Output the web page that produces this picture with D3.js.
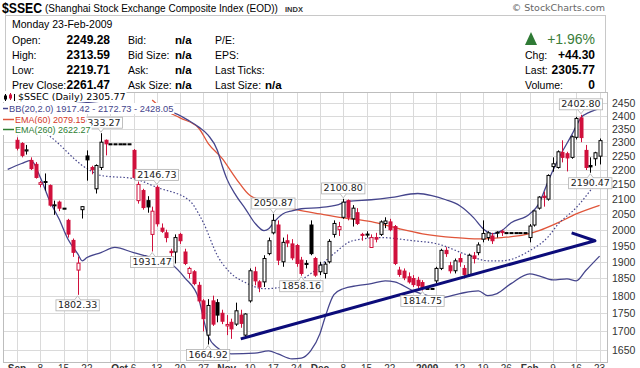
<!DOCTYPE html>
<html>
<head>
<meta charset="utf-8">
<script src="https://cdn.jsdelivr.net/npm/d3@7"></script>
<style>
  body { margin: 0; background: #fff; }
  svg { display: block; font-family: "Liberation Sans", Arial, sans-serif; }
</style>
</head>
<body>
<svg id="chart" width="640" height="368"></svg>
<script>
// ---- data ----
const fmtKey = d3.timeFormat('%Y-%m-%d');
// every weekday shown (holidays carry the previous close)
const dates = d3.timeDays(new Date(2008, 7, 28), new Date(2009, 1, 24))
    .filter(d => d.getDay() % 6 !== 0)
    .map(fmtKey);

const opens = [
  2345, 2365,
  2307, 2295, 2268, 2234, 2220,
  2150, 2160, 2146, 2078, 2090,
  2070, 2030, 1966, 1875, 2065,
  2250, 2209, 2135, 2209, 2307,
  2294, 2294, 2294, 2294, 2294,
  2270, 2095, 2129, 2095, 1985,
  2140, 2005, 1990, 1932, 1930,
  1985, 1930, 1865, 1870, 1830,
  1785, 1690, 1785, 1780, 1750,
  1715, 1725, 1720, 1745, 1690,
  1785, 1870, 1840, 1840, 1925,
  1990, 2015, 1900, 1965, 1955,
  1950, 1905, 1895, 2015, 1910,
  1870, 1865, 1900, 1985, 2000,
  2040, 2095, 2035, 2055, 1985,
  1985, 1944, 1975, 1985, 2020,
  2025, 2010, 1875, 1872, 1855,
  1850, 1845, 1838, 1821, 1821,
  1843, 1880, 1935, 1888, 1873,
  1910, 1880, 1862, 1918, 1928,
  1970, 1975, 1980, 1990, 1995,
  1990.66, 1990.66, 1990.66, 1990.66, 1990.66,
  1975, 2015, 2070, 2110, 2100,
  2212, 2209, 2263, 2258, 2245,
  2318, 2391, 2270, 2216, 2240,
  2249.28
];
const highs = [
  2370, 2400,
  2318, 2300, 2290, 2245, 2228,
  2162, 2188, 2150, 2095, 2095,
  2070, 2035, 1972, 1916, 2076,
  2270, 2215, 2220, 2333.27, 2310,
  2294, 2294, 2294, 2294, 2294,
  2275, 2160, 2135, 2110, 2075,
  2146.73, 2020, 2000, 1940, 1985,
  1990, 1940, 1885, 1875, 1840,
  1790, 1790, 1800, 1790, 1760,
  1745, 1735, 1780, 1760, 1750,
  1880, 1885, 1845, 1920, 1975,
  2050.87, 2030, 1975, 1985, 1970,
  1955, 1915, 1905, 2030, 1915,
  1900, 1900, 1970, 2030, 2025,
  2100.80, 2099, 2080, 2070, 1990,
  1995, 1985, 1990, 2030, 2040,
  2035, 2015, 1885, 1880, 1868,
  1860, 1855, 1845, 1821, 1821,
  1885, 1940, 1945, 1900, 1910,
  1925, 1890, 1925, 1930, 1960,
  2030, 1995, 1990, 1995, 2000,
  1990.66, 1990.66, 1990.66, 1990.66, 1990.66,
  2018, 2062, 2110, 2125, 2185,
  2245, 2270, 2307, 2265, 2325,
  2395, 2402.80, 2290, 2245, 2265,
  2313.59
];
const lows = [
  2330, 2355,
  2270, 2245, 2255, 2200, 2170,
  2140, 2129, 2075, 2048, 2060,
  2070, 1975, 1915, 1802.33, 2036,
  2163, 2185, 2119, 2200, 2252,
  2294, 2294, 2294, 2294, 2294,
  2170, 2085, 2065, 2055, 1931.47,
  2010, 1990, 1960, 1895, 1895,
  1955, 1890, 1850, 1830, 1780,
  1700, 1664.92, 1715, 1725, 1720,
  1690, 1680, 1715, 1710, 1680,
  1780, 1830, 1810, 1825, 1920,
  1985, 1890, 1885, 1945, 1905,
  1885, 1858.16, 1880, 1920, 1855,
  1860, 1850, 1895, 1975, 1980,
  2035, 2030, 2010, 2015, 1965,
  1975, 1945, 1960, 1980, 2005,
  1995, 1890, 1855, 1845, 1835,
  1825, 1822, 1814.75, 1821, 1821,
  1835, 1875, 1915, 1865, 1865,
  1885, 1850, 1855, 1895, 1920,
  1960, 1965, 1955, 1975, 1980,
  1990.66, 1990.66, 1990.66, 1990.66, 1990.66,
  1960, 2010, 2065, 2075, 2095,
  2194, 2205, 2227, 2195, 2240,
  2310, 2300, 2200, 2190.47, 2215,
  2219.71
];
const closes = [
  2360, 2397,
  2278, 2252, 2272, 2205, 2174,
  2156, 2157, 2080, 2081, 2070,
  2070, 1986, 1929, 1896, 2075,
  2236, 2201, 2216, 2300, 2294,
  2294, 2294, 2294, 2294, 2294,
  2174, 2150, 2072, 2074, 2060,
  2019, 1995, 1975, 1928, 1975,
  1965, 1895, 1880, 1835, 1785,
  1735, 1772, 1720, 1745, 1728,
  1719, 1707, 1757, 1722, 1748,
  1873, 1843, 1825, 1910, 1965,
  2030, 1905, 1960, 1958, 1912,
  1895, 1865, 1893, 1925, 1860,
  1890, 1893, 1963, 2020, 2010,
  2090, 2040, 2070, 2020, 1983,
  1986, 1975, 1970, 2025, 2028,
  2000, 1895, 1862, 1852, 1840,
  1832, 1829, 1821, 1821, 1821,
  1880, 1935, 1925, 1873, 1903,
  1900, 1862, 1920, 1910, 1952,
  1988, 1990, 1965, 1992, 1990.66,
  1990.66, 1990.66, 1990.66, 1990.66, 1990.66,
  2011.68, 2060.8, 2107, 2105, 2181,
  2222, 2265, 2245, 2243, 2320,
  2389, 2317, 2209, 2211, 2261.47,
  2305.77
];

// indicator readings [date, value]
const bbUpper = [
  ['2008-08-28', 2460], ['2008-09-10', 2460], ['2008-09-25', 2445], ['2008-10-06', 2429],
  ['2008-10-16', 2414], ['2008-10-22', 2379], ['2008-10-24', 2356], ['2008-10-28', 2326],
  ['2008-10-30', 2270], ['2008-10-31', 2216], ['2008-11-03', 2170], ['2008-11-05', 2112],
  ['2008-11-07', 2068], ['2008-11-11', 2022], ['2008-11-13', 1997], ['2008-11-14', 2003],
  ['2008-11-17', 2022], ['2008-11-19', 2051], ['2008-11-21', 2061], ['2008-11-25', 2068],
  ['2008-12-01', 2072], ['2008-12-05', 2082], ['2008-12-09', 2092], ['2008-12-16', 2098],
  ['2008-12-22', 2105], ['2008-12-30', 2119], ['2009-01-02', 2112], ['2009-01-07', 2098],
  ['2009-01-12', 2078], ['2009-01-15', 2038], ['2009-01-19', 2003], ['2009-01-21', 1987],
  ['2009-01-23', 1997], ['2009-01-27', 2022], ['2009-02-02', 2051], ['2009-02-04', 2085],
  ['2009-02-06', 2163], ['2009-02-10', 2234], ['2009-02-13', 2326], ['2009-02-17', 2391],
  ['2009-02-19', 2414], ['2009-02-23', 2428.05]
];
const bbMiddle = [
  ['2008-08-28', 2383], ['2008-09-09', 2334], ['2008-09-22', 2205], ['2008-09-25', 2181],
  ['2008-10-06', 2170], ['2008-10-13', 2140], ['2008-10-22', 2095], ['2008-10-24', 2051],
  ['2008-10-27', 2022], ['2008-10-30', 1919], ['2008-11-04', 1864], ['2008-11-07', 1838],
  ['2008-11-13', 1820], ['2008-11-18', 1823], ['2008-11-27', 1864], ['2008-12-04', 1925],
  ['2008-12-10', 1965], ['2008-12-18', 1975], ['2008-12-29', 1965], ['2009-01-05', 1956],
  ['2009-01-14', 1919], ['2009-01-20', 1903], ['2009-01-23', 1903], ['2009-02-02', 1934],
  ['2009-02-06', 1978], ['2009-02-10', 2016], ['2009-02-16', 2072], ['2009-02-19', 2129],
  ['2009-02-23', 2172.73]
];
const bbLower = [
  ['2008-08-28', 2202], ['2008-09-02', 2223], ['2008-09-04', 2234], ['2008-09-08', 2174],
  ['2008-09-10', 2095], ['2008-09-12', 2035], ['2008-09-16', 1968], ['2008-09-18', 1925],
  ['2008-09-19', 1903], ['2008-09-22', 1913], ['2008-09-25', 1928], ['2008-09-30', 1944],
  ['2008-10-06', 1928], ['2008-10-10', 1913], ['2008-10-16', 1894], ['2008-10-21', 1852],
  ['2008-10-24', 1791], ['2008-10-27', 1735], ['2008-10-28', 1688], ['2008-10-30', 1656],
  ['2008-11-04', 1640], ['2008-11-11', 1642], ['2008-11-14', 1648], ['2008-11-18', 1640],
  ['2008-11-21', 1627], ['2008-11-25', 1629], ['2008-11-27', 1648], ['2008-12-01', 1694],
  ['2008-12-02', 1735], ['2008-12-04', 1803], ['2008-12-08', 1820], ['2008-12-11', 1829],
  ['2008-12-16', 1835], ['2008-12-19', 1843], ['2008-12-23', 1840], ['2008-12-29', 1814],
  ['2009-01-06', 1794], ['2009-01-12', 1806], ['2009-01-16', 1814], ['2009-01-20', 1800],
  ['2009-01-22', 1806], ['2009-01-27', 1835], ['2009-02-02', 1864], ['2009-02-04', 1858],
  ['2009-02-09', 1846], ['2009-02-12', 1849], ['2009-02-16', 1843], ['2009-02-18', 1873],
  ['2009-02-23', 1917.42]
];
const ema60 = [
  ['2008-10-10', 2460], ['2008-10-14', 2429], ['2008-10-20', 2391], ['2008-10-24', 2352],
  ['2008-10-28', 2296], ['2008-10-31', 2241], ['2008-11-05', 2170], ['2008-11-10', 2112],
  ['2008-11-17', 2085], ['2008-11-24', 2065], ['2008-12-01', 2051], ['2008-12-08', 2038],
  ['2008-12-16', 2026], ['2008-12-24', 2003], ['2008-12-31', 1987], ['2009-01-09', 1975],
  ['2009-01-16', 1971], ['2009-01-23', 1975], ['2009-01-30', 1984], ['2009-02-04', 1997],
  ['2009-02-10', 2022], ['2009-02-16', 2051], ['2009-02-23', 2079.15]
];

// high / low callouts
const callouts = [
  ['2008-09-25', 2333.27, 'up'], ['2008-09-18', 1802.33, 'down'],
  ['2008-10-10', 1931.47, 'down'], ['2008-10-13', 2146.73, 'up'],
  ['2008-10-28', 1664.92, 'down'], ['2008-11-17', 2050.87, 'up'],
  ['2008-11-25', 1858.16, 'down'], ['2008-12-08', 2100.80, 'up'],
  ['2008-12-31', 1814.75, 'down'], ['2009-02-17', 2402.80, 'up'],
  ['2009-02-19', 2190.47, 'down']
];
// hand-drawn trend line (date, price)
const trendLine = [['2008-11-06', 1680], ['2009-02-20', 1965], ['2009-02-13', 1990]];

const priceTicks = d3.range(1650, 2451, 50);
const dateTicks = [
  ['2008-09-01', 'Sep'], ['2008-09-08', '8'], ['2008-09-15', '15'], ['2008-09-22', '22'],
  ['2008-10-01', 'Oct'], ['2008-10-06', '6'], ['2008-10-13', '13'], ['2008-10-20', '20'],
  ['2008-10-27', '27'], ['2008-11-03', 'Nov'], ['2008-11-10', '10'], ['2008-11-17', '17'],
  ['2008-11-24', '24'], ['2008-12-01', 'Dec'], ['2008-12-08', '8'], ['2008-12-15', '15'],
  ['2008-12-22', '22'], ['2009-01-01', '2009'], ['2009-01-12', '12'], ['2009-01-19', '19'],
  ['2009-01-26', '26'], ['2009-02-02', 'Feb'], ['2009-02-09', '9'], ['2009-02-16', '16'],
  ['2009-02-23', '23']
];

const quoteLeft = [
  ['Open:', '2249.28', 'Bid:', 'n/a', 'P/E:', ''],
  ['High:', '2313.59', 'Bid Size:', 'n/a', 'EPS:', ''],
  ['Low:', '2219.71', 'Ask:', 'n/a', 'Last Ticks:', ''],
  ['Prev Close:', '2261.47', 'Ask Size:', 'n/a', 'Last Size:', 'n/a']
];
const quoteRight = [['Chg:', '+44.30'], ['Last:', '2305.77'], ['Volume:', '0']];

// ---- layout ----
const svg = d3.select('#chart');
const plot = { left: 3, right: 607, top: 92, bottom: 362 };

const x = d3.scalePoint().domain(dates).range([7.7, 599.6]);
const y = d3.scaleLog().domain([1619, 2492]).range([plot.bottom, plot.top]);
const red = '#d0103c', navy = '#45458c';

// header
svg.append('text').attr('x', 2).attr('y', 13).attr('font-size', 14).attr('font-weight', 'bold')
    .attr('textLength', 40).attr('lengthAdjust', 'spacingAndGlyphs')
    .text('$SSEC');
svg.append('text').attr('x', 45).attr('y', 12).attr('font-size', 10)
    .text('(Shanghai Stock Exchange Composite Index (EOD))');
svg.append('text').attr('x', 285).attr('y', 12).attr('font-size', 7.5).attr('font-weight', 'bold')
    .attr('fill', '#333').text('INDX');
svg.append('text').attr('x', 605).attr('y', 11).attr('font-size', 9.5).attr('fill', '#666')
    .attr('text-anchor', 'end').attr('font-family', 'DejaVu Sans').text('© StockCharts.com');

svg.append('rect').attr('x', 5.5).attr('y', 15.5).attr('width', 600).attr('height', 77)
    .attr('fill', 'none').attr('stroke', '#c8c8c8');

svg.append('text').attr('x', 12).attr('y', 28).attr('font-size', 10.5).text('Monday  23-Feb-2009');

const rowY = [44, 59, 74, 89];
quoteLeft.forEach((r, i) => {
  const g = svg.append('g').attr('transform', `translate(0,${rowY[i]})`);
  g.append('text').attr('x', 12).attr('font-size', 10.5).text(r[0]);
  g.append('text').attr('x', 110).attr('text-anchor', 'end').attr('font-size', 12)
      .attr('font-weight', 'bold').text(r[1]);
  g.append('text').attr('x', 128).attr('font-size', 10.5).text(r[2]);
  g.append('text').attr('x', 175).attr('font-size', 11.5).attr('font-weight', 'bold').text(r[3]);
  g.append('text').attr('x', 215).attr('font-size', 10.5).text(r[4]);
  g.append('text').attr('x', 265).attr('font-size', 11.5).attr('font-weight', 'bold').text(r[5]);
});

svg.append('path').attr('d', 'M525,45 L537,45 L531,32 Z').attr('fill', '#2f7a35');
svg.append('text').attr('x', 595).attr('y', 44).attr('text-anchor', 'end').attr('font-size', 14)
    .attr('fill', '#3a7d3a').text('+1.96%');
quoteRight.forEach((r, i) => {
  svg.append('text').attr('x', 525).attr('y', rowY[i + 1]).attr('font-size', 10.5).text(r[0]);
  svg.append('text').attr('x', 595).attr('y', rowY[i + 1]).attr('text-anchor', 'end')
      .attr('font-size', 12).attr('font-weight', 'bold').text(r[1]);
});

// grid
const grid = svg.append('g');
grid.selectAll('.hg').data(priceTicks).enter().append('line')
    .attr('x1', plot.left).attr('x2', plot.right)
    .attr('y1', d => Math.round(y(d)) + 0.5).attr('y2', d => Math.round(y(d)) + 0.5)
    .attr('stroke', '#dadada');
const mondays = dates.filter(d => new Date(d + 'T00:00').getDay() === 1);
grid.selectAll('.vg').data(mondays).enter().append('line')
    .attr('x1', d => Math.round(x(d)) + 0.5).attr('x2', d => Math.round(x(d)) + 0.5)
    .attr('y1', plot.top).attr('y2', plot.bottom)
    .attr('stroke', '#dadada');

svg.append('rect').attr('x', plot.left + 0.5).attr('y', plot.top + 0.5)
    .attr('width', plot.right - plot.left).attr('height', plot.bottom - plot.top)
    .attr('fill', 'none').attr('stroke', '#bdbdbd');

// axes labels
svg.selectAll('.pl').data(priceTicks).enter().append('text')
    .attr('x', 612).attr('y', d => y(d) + 4).attr('font-size', 10.5).attr('fill', '#333')
    .text(d => d);

const dayX = d => {
  const dt = new Date(d + 'T00:00');
  while (dt.getDay() % 6 === 0) dt.setDate(dt.getDate() + 1);
  return x(fmtKey(dt));
};
svg.selectAll('.dl').data(dateTicks).enter().append('text')
    .attr('x', d => dayX(d[0])).attr('y', 372).attr('text-anchor', 'middle')
    .attr('font-size', 10).attr('fill', '#333')
    .attr('font-weight', d => isNaN(+d[1]) || d[1] === '2009' ? 'bold' : null)
    .text(d => d[1]);

// clip
svg.append('clipPath').attr('id', 'clip').append('rect')
    .attr('x', plot.left).attr('y', plot.top)
    .attr('width', plot.right - plot.left).attr('height', plot.bottom - plot.top);
const area = svg.append('g').attr('clip-path', 'url(#clip)');

// indicators
const line = d3.line().x(d => x(d[0])).y(d => y(d[1])).curve(d3.curveMonotoneX);
area.append('path').datum(ema60).attr('d', line).attr('fill', 'none')
    .attr('stroke', '#e0553a').attr('stroke-width', 1.3);
area.append('path').datum(bbUpper).attr('d', line).attr('fill', 'none')
    .attr('stroke', navy).attr('stroke-width', 1.3);
area.append('path').datum(bbLower).attr('d', line).attr('fill', 'none')
    .attr('stroke', navy).attr('stroke-width', 1.3);
area.append('path').datum(bbMiddle).attr('d', line).attr('fill', 'none')
    .attr('stroke', navy).attr('stroke-width', 1.2).attr('stroke-dasharray', '1.5,2');

// candles
const bars = dates.map((d, i) => ({
  date: d, o: opens[i], h: highs[i], l: lows[i], c: closes[i],
  prev: i ? closes[i - 1] : opens[i]
}));
const candle = area.selectAll('.candle').data(bars).enter().append('g')
    .attr('class', 'candle')
    .attr('transform', d => `translate(${Math.round(x(d.date)) + 0.5},0)`);
const col = d => d.c >= d.prev ? '#000' : red;
candle.append('line')
    .attr('y1', d => y(d.h)).attr('y2', d => y(d.l))
    .attr('stroke', col);
candle.append('rect')
    .attr('x', -1.5).attr('width', 3)
    .attr('y', d => y(Math.max(d.o, d.c)))
    .attr('height', d => Math.max(1, Math.abs(y(d.o) - y(d.c))))
    .attr('fill', d => d.c > d.o ? '#fff' : col(d))
    .attr('stroke', col).attr('stroke-width', 1);

// trend line
area.append('path').datum(trendLine)
    .attr('d', d3.line().x(d => x(d[0])).y(d => y(d[1])))
    .attr('fill', 'none').attr('stroke', '#0c0c7a').attr('stroke-width', 3)
    .attr('stroke-linejoin', 'round');

// callouts
const co = svg.append('g').attr('font-size', 9.5).attr('font-family', 'DejaVu Sans');
callouts.forEach(([d, v, pos]) => {
  const cx = x(d), py = y(v);
  const g = co.append('g');
  const t = g.append('text').attr('text-anchor', 'middle').attr('fill', '#222').text(v.toFixed(2));
  const w = t.node().getComputedTextLength() + 4, h = 11;
  const top = pos === 'up' ? py - 5 - h : py + 5;
  g.insert('rect', 'text').attr('x', cx - w / 2).attr('y', top).attr('width', w).attr('height', h)
      .attr('fill', '#fff').attr('stroke', '#b0b0b0').attr('stroke-width', 0.8);
  t.attr('x', cx).attr('y', top + 8.5);
  const tip = pos === 'up' ? top + h : top;
  g.append('path')
      .attr('d', `M${cx - 3},${tip} L${cx},${pos === 'up' ? tip + 4 : tip - 4} L${cx + 3},${tip}`)
      .attr('fill', '#fff').attr('stroke', '#b0b0b0').attr('stroke-width', 0.8);
});

// legend
const leg = svg.append('g');
const legRows = [
  { y: 100, text: '$SSEC (Daily) 2305.77', color: '#000', x0: 18, font: 'DejaVu Sans', size: 9.5 },
  { y: 112, text: 'BB(20,2.0) 1917.42 - 2172.73 - 2428.05', color: navy, x0: 9, size: 9.3, dash: navy },
  { y: 123, text: 'EMA(60) 2079.15', color: '#d43a2a', x0: 15, size: 9, dash: '#e0553a' },
  { y: 133, text: 'EMA(260) 2622.27', color: '#2e7d32', x0: 15, size: 9, dash: '#2e7d32' }
];
legRows.forEach(r => {
  const g = leg.append('g');
  const t = g.append('text').attr('x', r.x0).attr('y', r.y).attr('font-size', r.size)
      .attr('font-family', r.font || null).attr('fill', r.color).text(r.text);
  const w = t.node().getComputedTextLength();
  g.insert('rect', 'text').attr('x', 1).attr('y', r.y - 9).attr('width', r.x0 + w)
      .attr('height', 11).attr('fill', '#fff');
  if (r.dash) {
    g.append('line').attr('x1', 3).attr('x2', r.x0 - 1).attr('y1', r.y - 3.5).attr('y2', r.y - 3.5)
        .attr('stroke', r.dash).attr('stroke-width', 1.5);
  }
});
// little price icon in front of the first legend row
const icon = leg.append('g').attr('transform', 'translate(3,92)');
icon.append('line').attr('x1', 2.5).attr('x2', 2.5).attr('y1', 2).attr('y2', 9).attr('stroke', '#000');
icon.append('rect').attr('x', 1).attr('y', 3.5).attr('width', 3).attr('height', 4).attr('fill', '#000');
icon.append('line').attr('x1', 7.5).attr('x2', 7.5).attr('y1', 1).attr('y2', 8).attr('stroke', red);
icon.append('rect').attr('x', 6).attr('y', 2.5).attr('width', 3).attr('height', 4).attr('fill', red);
icon.append('line').attr('x1', 11.5).attr('x2', 11.5).attr('y1', 2).attr('y2', 9).attr('stroke', '#000');
</script>
</body>
</html>
